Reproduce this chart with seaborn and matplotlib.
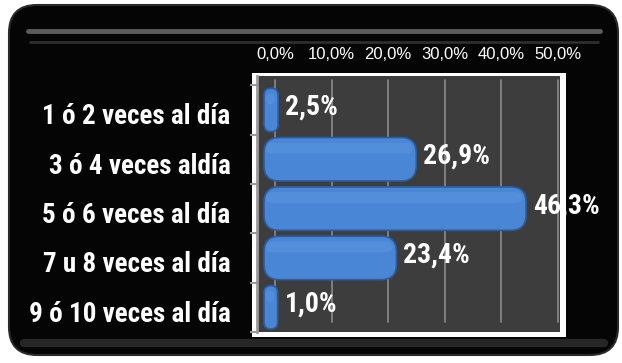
import matplotlib
matplotlib.use("Agg")
import matplotlib.pyplot as plt
from matplotlib.patches import FancyBboxPatch, Rectangle
from matplotlib.transforms import ScaledTranslation
import seaborn as sns
import pandas as pd

# ---- data ----
categories = ["1 ó 2 veces al día", "3 ó 4 veces aldía", "5 ó 6 veces al día",
              "7 u 8 veces al día", "9 ó 10 veces al día"]
values = [2.5, 26.9, 46.3, 23.4, 1.0]
ticks = [0, 10, 20, 30, 40, 50]
tick_labels = ["0,0%", "10,0%", "20,0%", "30,0%", "40,0%", "50,0%"]

sns.set_theme(style="white")
FONT = ["Roboto Condensed", "Liberation Sans Narrow", "Liberation Sans", "DejaVu Sans"]
TICKFONT = ["Liberation Sans", "DejaVu Sans"]
plt.rcParams["font.family"] = FONT

W, H = 622, 363
fig = plt.figure(figsize=(W / 100, H / 100), dpi=100)
fig.patch.set_facecolor("white")

# background decoration axes (pixel coordinates)
bg = fig.add_axes([0, 0, 1, 1], zorder=0)
bg.set_xlim(0, W)
bg.set_ylim(H, 0)
bg.axis("off")
bg.add_patch(FancyBboxPatch((9, 5), 609, 350, boxstyle="round,pad=0,rounding_size=28",
                            facecolor="#050505", edgecolor="#2a2a2a", linewidth=1.5))
bg.plot([28, 600], [31, 31], color="#5c5c5c", linewidth=3.5, solid_capstyle="round")
bg.plot([30, 598], [42, 42], color="#2e2e2e", linewidth=2, solid_capstyle="round")
bg.plot([24, 604], [343, 343], color="#262626", linewidth=6, solid_capstyle="round")
bg.add_patch(Rectangle((252, 73), 314, 264, facecolor="white", edgecolor="none"))

# main axes
zero_px = 264
left, right, top, bottom = 257, 560, 76, 332
ax = fig.add_axes([left / W, 1 - bottom / H, (right - left) / W, (bottom - top) / H], zorder=2)
df = pd.DataFrame({"cat": categories, "val": values})
sns.barplot(data=df, x="val", y="cat", orient="h", color="#4a86d6", width=0.88, ax=ax,
            saturation=1)

px_x = 5.66                     # pixels per 1 %
xmin = -(zero_px - left) / px_x
xmax = (right - zero_px) / px_x
px_y = 49.5
ax.set_ylim(-0.687 + (bottom - top) / px_y, -0.687)
ax.set_facecolor("#3d3d3d")
for name, s in ax.spines.items():
    s.set_visible(name == "left")
ax.spines["left"].set_color("#9a9a9a")
ax.spines["left"].set_linewidth(2)

# rounded bars (cylinder-like caps)
asp = (1 / px_y) / (1 / px_x)
min_cap = 2.4
for p in list(ax.patches):
    x0, y0, w, h = p.get_x(), p.get_y(), p.get_width(), p.get_height()
    fc = p.get_facecolor()
    p.remove()
    ww = max(w, min_cap)
    r = min(2.7, ww / 2)
    ax.add_patch(FancyBboxPatch((x0, y0), ww, h,
                                boxstyle=f"round,pad=0,rounding_size={r}",
                                mutation_aspect=asp, facecolor=fc,
                                edgecolor="#2d5c9e", linewidth=1.2, zorder=3))
    # soft highlight along the top of the bar
    ax.add_patch(FancyBboxPatch((x0 + 0.3, y0 + h * 0.12), max(ww - 0.9, 0.3), h * 0.25,
                                boxstyle=f"round,pad=0,rounding_size={min(1.2, ww / 3)}",
                                mutation_aspect=asp, facecolor="#5f98e2",
                                edgecolor="none", alpha=0.45, zorder=4))

# back gridlines (offset for 3D look)
off = ScaledTranslation(11 / 100, 0, fig.dpi_scale_trans)
for t in ticks:
    ax.plot([t, t], [0.04, 0.985], color="#8a8a8a", linewidth=1.2, zorder=1,
            transform=ax.get_xaxis_transform() + off)

# ticks
ax.xaxis.tick_top()
ax.set_xticks(ticks)
ax.set_xticklabels(tick_labels, fontsize=12, color="white", family=TICKFONT)
ax.tick_params(axis="x", length=0, pad=10)
for lab in ax.get_xticklabels():
    lab.set_transform(lab.get_transform() + off)

ax.set_yticks(range(len(categories)))
ax.set_yticks([i + 0.5 for i in range(-1, len(categories))], minor=True)
ax.set_yticklabels(categories, fontsize=19.5, fontweight="bold", color="white", family=FONT)
ax.tick_params(axis="y", which="major", length=0, pad=19)
ax.tick_params(axis="y", which="minor", length=5, width=1.5, color="#9a9a9a", direction="out", left=True)
down = ScaledTranslation(0, -4 / 100, fig.dpi_scale_trans)
for lab in ax.get_yticklabels():
    lab.set_transform(lab.get_transform() + down)
ax.set_xlabel("")
ax.set_ylabel("")
ax.set_xlim(xmin, xmax)

# value labels
for i, v in enumerate(values):
    ax.annotate(f"{v:.1f}".replace(".", ",") + "%", (max(v, min_cap), i), xytext=(5, 2),
                textcoords="offset points", ha="left", va="center",
                fontsize=20, fontweight="bold", color="white", family=FONT,
                zorder=5, annotation_clip=False)

fig.savefig("out.png", dpi=100)
